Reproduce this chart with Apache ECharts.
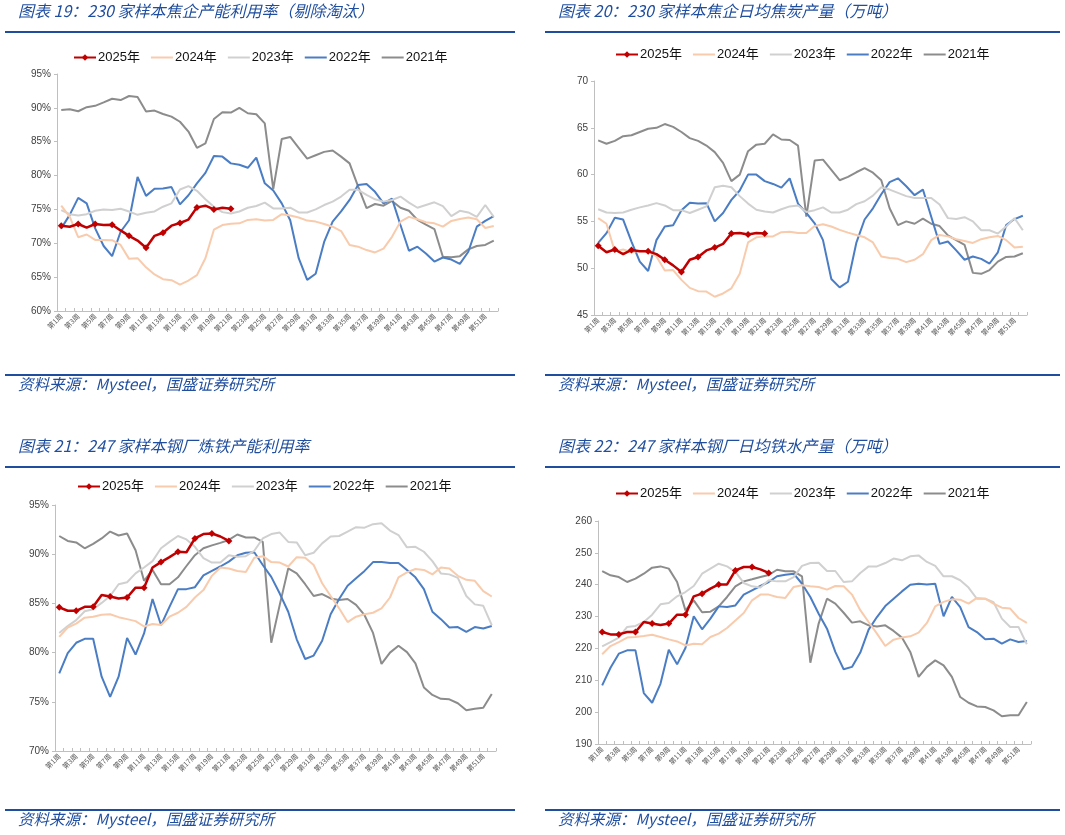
<!DOCTYPE html>
<html><head><meta charset="utf-8">
<script src="https://cdn.jsdelivr.net/npm/echarts@6/dist/echarts.min.js"></script>
<style>html,body{margin:0;padding:0;background:#fff}#c{width:1065px;height:835px}</style>
</head><body><div id="c"></div>
<script>
var weeks = [];
for (var w = 1; w <= 52; w++) weeks.push('第' + w + '周');
var yearNames = ['2025年','2024年','2023年','2022年','2021年'];

// 图表19 230家样本焦企产能利用率（%）
var p1_2025 = [72.6,72.45,72.85,72.3,72.85,72.7,72.75,71.9,71.1,70.4,69.35,71.1,71.55,72.6,73.0,73.5,75.3,75.55,75.0,75.25,75.1];
var p1_2024 = [75.55,73.9,70.9,71.3,70.5,70.5,70.45,69.75,67.7,67.8,66.45,65.4,64.7,64.55,63.9,64.5,65.3,67.8,72.0,72.7,72.9,72.95,73.45,73.55,73.35,73.45,74.3,74.1,73.8,73.35,73.2,72.85,72.45,71.8,69.75,69.5,69.0,68.65,69.2,70.95,73.2,73.9,73.55,73.1,72.95,72.45,73.3,73.6,73.8,73.55,72.25,72.55];
var p1_2023 = [74.9,74.3,74.1,74.3,74.8,75.0,74.9,75.1,74.7,74.2,74.5,74.7,75.4,75.9,77.95,78.45,77.75,76.5,75.4,74.6,74.4,74.7,75.25,75.5,76.0,75.15,75.15,75.25,74.55,74.55,75.0,75.65,76.15,76.9,77.9,77.9,77.15,76.5,76.15,76.4,76.9,76.0,75.25,75.65,76.05,75.5,74.0,74.8,74.55,73.9,75.65,73.9];
var p1_2022 = [72.2,74.2,76.7,75.9,72.2,69.6,68.1,71.7,73.4,79.8,77.0,78.05,78.1,78.3,75.75,77.1,78.85,80.4,82.9,82.8,81.8,81.6,81.15,82.65,78.85,77.8,75.9,73.4,67.8,64.6,65.5,70.2,73.2,74.7,76.4,78.6,78.75,77.6,75.9,76.6,72.7,68.9,69.5,68.5,67.3,67.9,67.6,66.95,68.75,72.45,73.3,74.0];
var p1_2021 = [89.7,89.8,89.5,90.1,90.3,90.8,91.35,91.15,91.75,91.6,89.45,89.6,89.1,88.7,87.95,86.5,84.1,84.75,88.35,89.35,89.3,90.0,89.2,89.05,87.7,78.0,85.4,85.7,84.1,82.5,83.0,83.5,83.7,82.8,81.8,78.4,75.2,75.8,75.55,76.25,75.25,74.8,73.45,72.75,72.1,68.0,67.95,68.1,69.1,69.6,69.75,70.4];

// 图表20 230家样本焦企日均焦炭产量（万吨）
var p2_2025 = [52.4,51.7,52.0,51.5,51.95,51.8,51.8,51.5,50.9,50.3,49.6,50.9,51.2,51.9,52.2,52.6,53.7,53.75,53.6,53.75,53.7];
var p2_2024 = [55.35,54.75,51.8,52.0,51.7,51.85,51.8,51.25,49.75,49.8,48.75,47.9,47.55,47.5,46.95,47.3,47.85,49.4,52.75,53.3,53.4,53.4,53.85,53.9,53.75,53.75,54.5,54.7,54.45,54.1,53.8,53.55,53.3,52.75,51.25,51.1,51.0,50.65,50.9,51.5,53.0,53.55,53.4,53.1,52.9,52.7,53.1,53.3,53.45,53.0,52.2,52.3];
var p2_2023 = [56.3,55.95,55.9,55.95,56.25,56.5,56.7,56.95,56.7,56.2,56.2,55.9,56.25,56.6,58.65,58.8,58.65,57.7,56.9,56.25,56.05,55.95,56.3,56.6,56.7,56.0,56.2,56.5,55.95,55.95,56.25,56.85,57.15,57.75,58.65,58.4,58.05,57.7,57.5,57.5,57.5,56.8,55.35,55.25,55.45,55.0,54.05,54.05,53.7,54.45,55.35,54.05];
var p2_2022 = [52.7,53.75,55.4,55.2,52.85,50.7,49.7,53.0,54.45,54.6,56.2,57.0,56.9,56.95,55.0,55.9,57.3,58.3,60.0,60.0,59.3,59.0,58.6,59.6,56.9,55.9,54.8,53.0,48.85,47.95,48.55,52.7,55.2,56.4,57.9,59.2,59.6,58.75,57.8,58.4,55.5,52.6,52.85,51.9,50.9,51.25,51.0,50.5,51.7,54.6,55.25,55.6];
var p2_2021 = [63.65,63.3,63.6,64.1,64.2,64.55,64.9,65.0,65.4,65.1,64.55,63.9,63.6,63.1,62.4,61.25,59.3,60.0,62.5,63.2,63.3,64.3,63.75,63.7,63.1,55.5,61.5,61.6,60.5,59.4,59.75,60.25,60.7,60.2,59.4,56.4,54.6,55.0,54.75,55.3,54.75,54.5,53.5,53.0,52.5,49.5,49.4,49.8,50.7,51.2,51.25,51.6];

// 图表21 247家样本钢厂炼铁产能利用率（%）
var p3_2025 = [84.6,84.25,84.25,84.65,84.65,85.85,85.7,85.5,85.6,86.6,86.6,88.65,89.2,89.7,90.25,90.2,91.6,92.05,92.1,91.8,91.35];
var p3_2024 = [81.6,82.55,82.95,83.55,83.65,83.85,83.9,83.6,83.4,83.2,82.65,82.9,82.8,83.65,84.05,84.65,85.6,86.35,87.8,88.65,88.55,88.3,88.2,89.65,89.8,89.2,89.15,88.75,89.7,89.65,88.9,87.05,85.75,84.5,83.1,83.65,83.9,84.05,84.5,85.6,87.65,88.15,88.5,88.4,87.95,88.65,88.55,87.8,87.4,87.3,86.25,85.7];
var p3_2023 = [82.0,82.7,83.3,84.2,84.4,85.05,85.75,86.95,87.15,88.05,88.65,89.3,90.6,91.25,91.85,91.5,90.75,89.6,89.15,89.15,89.9,89.75,89.8,90.35,91.6,92.05,92.2,91.25,91.2,89.9,90.15,91.1,91.8,91.85,92.3,92.75,92.7,93.05,93.15,92.4,91.95,90.7,90.75,90.25,89.3,88.05,87.95,87.6,85.75,84.9,84.75,82.8];
var p3_2022 = [77.9,79.95,81.0,81.4,81.4,77.55,75.5,77.55,81.5,79.8,81.95,85.45,82.8,84.65,86.45,86.45,86.65,87.85,88.3,88.75,89.25,89.9,90.15,90.2,88.9,87.7,86.0,84.15,81.35,79.35,79.7,81.2,83.9,85.45,86.8,87.55,88.3,89.2,89.2,89.1,89.1,88.4,87.65,86.45,84.15,83.4,82.55,82.6,82.1,82.6,82.45,82.7];
var p3_2021 = [91.85,91.35,91.2,90.6,91.05,91.6,92.3,91.9,92.1,90.4,87.3,88.4,86.95,86.95,87.65,88.8,89.9,90.6,90.9,91.15,91.45,92.0,91.7,91.7,91.25,81.0,84.85,88.55,88.05,86.95,85.75,85.95,85.5,85.35,85.45,84.85,83.8,82.0,78.85,80.0,80.7,80.05,78.9,76.45,75.7,75.3,75.25,74.85,74.15,74.3,74.4,75.8];

// 图表22 247家样本钢厂日均铁水产量（万吨）
var p4_2025 = [225.15,224.4,224.4,225.15,225.15,228.3,227.8,227.35,227.8,230.6,230.6,236.35,237.2,238.75,240.1,240.1,244.5,245.55,245.55,244.8,243.7];
var p4_2024 = [218.15,220.75,222.0,223.4,223.6,223.9,224.3,223.6,222.85,222.2,220.95,221.5,221.3,223.6,224.65,226.4,228.8,231.1,235.1,236.9,236.9,236.15,235.85,239.3,239.8,239.5,239.3,238.45,239.6,239.5,236.9,232.0,228.3,224.65,220.75,222.75,223.4,223.8,224.95,228.0,233.2,234.6,235.4,235.3,234.05,235.85,235.6,234.05,232.8,232.5,229.55,228.0];
var p4_2023 = [220.65,222.0,223.4,226.75,227.05,228.3,230.6,233.85,234.25,236.35,237.7,239.6,243.45,245.05,246.6,245.75,244.0,240.55,239.5,239.1,241.4,241.05,241.05,242.4,245.9,246.8,246.9,244.3,244.3,240.85,241.05,243.7,245.75,245.75,246.8,248.2,247.65,248.9,249.2,247.15,245.9,242.65,242.65,241.4,239.1,235.6,235.6,234.55,229.35,226.75,226.75,221.3];
var p4_2022 = [208.4,213.95,218.35,219.4,219.4,206.0,202.95,208.9,219.6,215.0,220.15,230.1,226.0,229.35,233.2,233.0,233.5,236.9,238.25,239.6,240.85,242.65,243.15,243.45,240.3,236.15,230.9,226.2,218.9,213.45,214.2,218.7,225.9,229.85,233.3,235.6,237.9,240.0,240.3,240.1,240.3,230.1,236.15,233.0,226.7,225.15,222.85,223.05,221.5,222.85,222.0,222.3];
var p4_2021 = [244.3,242.95,242.4,240.85,241.9,243.45,245.35,245.75,245.05,240.85,231.95,235.1,231.35,231.55,233.2,236.15,239.5,241.05,241.7,242.4,243.05,244.7,244.2,244.2,242.65,215.5,227.8,235.6,234.05,231.2,228.1,228.5,227.25,226.9,227.25,225.5,223.4,218.9,211.05,214.2,216.25,214.7,211.05,204.75,202.95,201.8,201.6,200.55,198.7,199.0,199.0,203.2];

var titles = ['图表 19：230 家样本焦企产能利用率（剔除淘汰）','图表 20：230 家样本焦企日均焦炭产量（万吨）','图表 21：247 家样本钢厂炼铁产能利用率','图表 22：247 家样本钢厂日均铁水产量（万吨）'];
var sourceText = '资料来源：Mysteel，国盛证券研究所';
var panels = [
  {data:[p1_2025,p1_2024,p1_2023,p1_2022,p1_2021], min:60, max:95, interval:5, pct:true},
  {data:[p2_2025,p2_2024,p2_2023,p2_2022,p2_2021], min:45, max:70, interval:5, pct:false},
  {data:[p3_2025,p3_2024,p3_2023,p3_2022,p3_2021], min:70, max:95, interval:5, pct:true},
  {data:[p4_2025,p4_2024,p4_2023,p4_2022,p4_2021], min:190, max:260, interval:10, pct:false}
];

var colors = ['#c00000','#f8cbad','#d0d0d0','#4a7dc4','#8c8c8c'];
var grids = [
  {left:57, top:74, width:441, height:237},
  {left:594, top:81, width:433, height:234},
  {left:55, top:505, width:441, height:246},
  {left:598, top:521, width:433, height:223}
];
var legendPos = [{left:73, top:51},{left:615, top:48},{left:77, top:480},{left:615, top:487}];
var blue = '#1f4e9e';
var titleFont = 'italic 16px "Noto Sans CJK SC", sans-serif';
var srcFont = 'italic 15.5px "Noto Sans CJK SC", sans-serif';

var option = {
  backgroundColor:'#fff',
  animation:false,
  grid:[], xAxis:[], yAxis:[], series:[], legend:[], graphic:[]
};

var legendData = yearNames.map(function(n, j){
  return j === 0 ? {name:n} : {name:n, itemStyle:{opacity:0}};
});

panels.forEach(function(p, k){
  option.grid.push(grids[k]);
  option.xAxis.push({
    type:'category', gridIndex:k, data:weeks, boundaryGap:true,
    axisLine:{lineStyle:{color:'#bfbfbf', width:1}},
    axisTick:{show:true, interval:0, length:3, inside:true, lineStyle:{color:'#bfbfbf'}},
    axisLabel:{interval:1, rotate:45, fontSize:7, color:'#595959', margin:4, fontFamily:'"Noto Sans CJK SC"'}
  });
  option.yAxis.push({
    type:'value', gridIndex:k, min:p.min, max:p.max, interval:p.interval,
    splitLine:{show:false},
    axisLine:{show:true, lineStyle:{color:'#bfbfbf', width:1}},
    axisTick:{show:true, length:3, lineStyle:{color:'#bfbfbf'}},
    axisLabel:{color:'#404040', fontSize:10, fontFamily:'"Liberation Sans", Arial', margin:6,
      formatter: p.pct ? '{value}%' : '{value}'}
  });
  option.legend.push({
    left:legendPos[k].left, top:legendPos[k].top, padding:0, itemWidth:22, itemHeight:8, itemGap:10,
    data:legendData,
    textStyle:{fontSize:13, color:'#111', fontFamily:'"Liberation Sans","Noto Sans CJK SC"', padding:[0,0,0,-3]}
  });
  p.data.forEach(function(arr, j){
    option.series.push({
      name:yearNames[j], type:'line', xAxisIndex:k, yAxisIndex:k, data:arr,
      z: j===0 ? 20 : 10 - j,
      lineStyle:{color:colors[j], width: j===0 ? 2.5 : 2},
      itemStyle:{color:colors[j]},
      symbol: j===0 ? 'diamond' : 'none',
      symbolSize: 7, showSymbol: j===0
    });
  });
});

// titles, rules, sources
var cols = [{x:5, w:510, tx:18},{x:545, w:515, tx:558}];
var rows = [{titleY:3, ruleTop:31, ruleBot:374, srcY:376},{titleY:438, ruleTop:466, ruleBot:809, srcY:811}];
for (var r = 0; r < 2; r++) {
  for (var c = 0; c < 2; c++) {
    var idx = r*2 + c;
    option.graphic.push({type:'text', left:cols[c].tx, top:rows[r].titleY,
      style:{text:titles[idx], font:titleFont, fill:blue}});
    option.graphic.push({type:'rect', shape:{x:cols[c].x, y:rows[r].ruleTop, width:cols[c].w, height:2}, style:{fill:blue}});
    option.graphic.push({type:'rect', shape:{x:cols[c].x, y:rows[r].ruleBot, width:cols[c].w, height:2}, style:{fill:blue}});
    option.graphic.push({type:'text', left:cols[c].tx, top:rows[r].srcY,
      style:{text:sourceText, font:srcFont, fill:blue}});
  }
}

var chart = echarts.init(document.getElementById('c'));
chart.setOption(option);
</script></body></html>
